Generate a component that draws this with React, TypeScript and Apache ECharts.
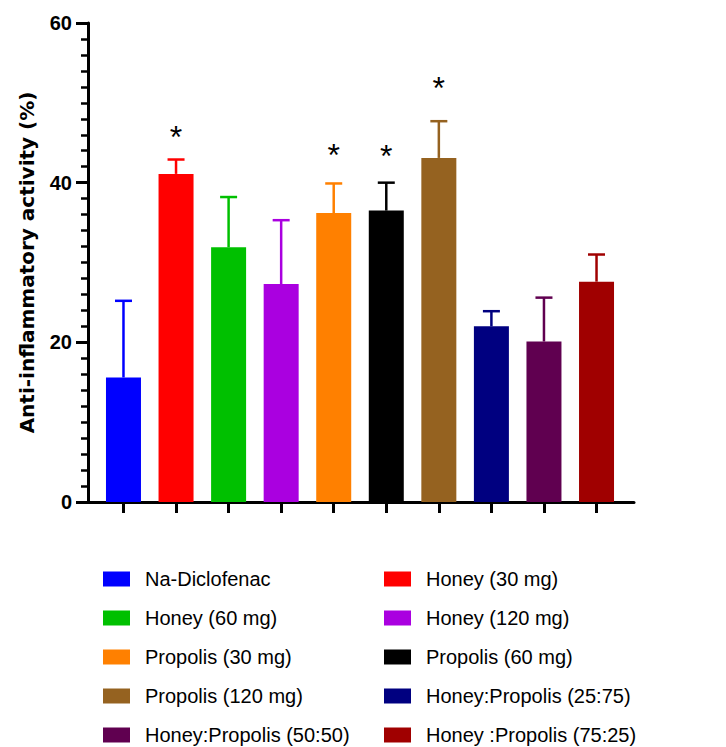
import React, { useEffect, useRef } from "react";
import * as echarts from "echarts";

const groups = [
  "Na-Diclofenac",
  "Honey (30 mg)",
  "Honey (60 mg)",
  "Honey (120 mg)",
  "Propolis (30 mg)",
  "Propolis (60 mg)",
  "Propolis (120 mg)",
  "Honey:Propolis (25:75)",
  "Honey:Propolis (50:50)",
  "Honey :Propolis (75:25)",
];
const means = [15.6, 41.1, 31.9, 27.3, 36.2, 36.5, 43.1, 22.0, 20.1, 27.6];
const errors = [9.6, 1.8, 6.3, 8.0, 3.7, 3.5, 4.6, 1.9, 5.5, 3.4];
const colors = [
  "#0000FF",
  "#FF0000",
  "#00C000",
  "#AA00E0",
  "#FF8000",
  "#000000",
  "#956220",
  "#000080",
  "#600050",
  "#A00000",
];
const sigGroups = [1, 4, 5, 6];
const sigMarkY = [46.4, 44.1, 44.0, 52.5];
const yMin = 0;
const yMax = 60;
const yInterval = 20;
const xPositions = groups.map((_, i) => i);

export default function App() {
  const ref = useRef<HTMLDivElement>(null);
  useEffect(() => {
    if (!ref.current) return;
    const chart = echarts.init(ref.current, undefined, { renderer: "svg" });

    const barSeries = groups.map((g, i) => ({
      name: g,
      type: "bar",
      barWidth: 35,
      barGap: "-100%",
      itemStyle: { color: colors[i] },
      data: [[xPositions[i], means[i]]],
      z: 3,
    }));

    const errData = groups.map((_, i) => [xPositions[i], means[i], errors[i]]);
    const sigData = sigGroups.map((g, k) => [xPositions[g], sigMarkY[k]]);

    const leftCol = groups.filter((_, i) => i % 2 === 0);
    const rightCol = groups.filter((_, i) => i % 2 === 1);

    const legendBase = {
      orient: "vertical",
      padding: 0,
      itemWidth: 27,
      itemHeight: 15,
      itemGap: 19,
      icon: "rect",
      top: 569,
      selectedMode: false,
      textStyle: {
        fontFamily: "Liberation Sans",
        fontSize: 20,
        color: "#000",
        lineHeight: 20,
        padding: [0, 0, 0, 10],
      },
    };

    chart.setOption({
      animation: false,
      backgroundColor: "#fff",
      legend: [
        { ...legendBase, left: 103, data: leftCol },
        { ...legendBase, left: 384, data: rightCol },
      ],
      grid: { left: 88, right: 92, top: 23, bottom: 245, containLabel: false },
      xAxis: {
        type: "value",
        min: -0.675,
        max: 9.713,
        splitLine: { show: false },
        axisLine: { show: true, onZero: false, lineStyle: { color: "#000", width: 3 } },
        axisTick: {
          show: true,
          customValues: xPositions,
          length: 11,
          lineStyle: { color: "#000", width: 3 },
        },
        axisLabel: { show: false },
      },
      yAxis: {
        type: "value",
        min: yMin,
        max: yMax,
        interval: yInterval,
        name: "Anti-inflammatory activity (%)",
        nameLocation: "middle",
        nameGap: 51,
        nameTextStyle: {
          fontFamily: "DejaVu Sans",
          fontWeight: "bold",
          fontSize: 20,
          color: "#000",
        },
        splitLine: { show: false },
        axisLine: { show: true, onZero: false, lineStyle: { color: "#000", width: 3 } },
        axisTick: { show: true, length: 12, lineStyle: { color: "#000", width: 3 } },
        minorTick: {
          show: true,
          splitNumber: 10,
          length: 7,
          lineStyle: { color: "#000", width: 2.5 },
        },
        axisLabel: {
          margin: 16,
          fontFamily: "Liberation Sans",
          fontWeight: "bold",
          fontSize: 20,
          color: "#000",
        },
      },
      series: [
        ...barSeries,
        {
          type: "custom",
          name: "errors",
          data: errData,
          z: 2,
          renderItem: (params: any, api: any) => {
            const x = api.value(0);
            const m = api.value(1);
            const e = api.value(2);
            const base = api.coord([x, m]);
            const top = api.coord([x, m + e]);
            const c = colors[params.dataIndex];
            return {
              type: "group",
              children: [
                {
                  type: "line",
                  shape: { x1: top[0], y1: base[1], x2: top[0], y2: top[1] },
                  style: { stroke: c, lineWidth: 2.5 },
                },
                {
                  type: "line",
                  shape: { x1: top[0] - 8.5, y1: top[1], x2: top[0] + 8.5, y2: top[1] },
                  style: { stroke: c, lineWidth: 2.5 },
                },
              ],
            };
          },
        },
        {
          type: "custom",
          name: "sig",
          data: sigData,
          z: 4,
          renderItem: (params: any, api: any) => {
            const p = api.coord([api.value(0), api.value(1)]);
            return {
              type: "text",
              x: p[0],
              y: p[1] + 5,
              style: {
                text: "*",
                fontFamily: "Liberation Sans",
                fontSize: 32,
                fill: "#000",
                align: "center",
                verticalAlign: "middle",
              },
            };
          },
        },
      ],
    });
    return () => chart.dispose();
  }, []);
  return (
    <div
      ref={ref}
      style={{ position: "fixed", left: 0, top: 0, width: 726, height: 747, background: "#fff" }}
    />
  );
}
